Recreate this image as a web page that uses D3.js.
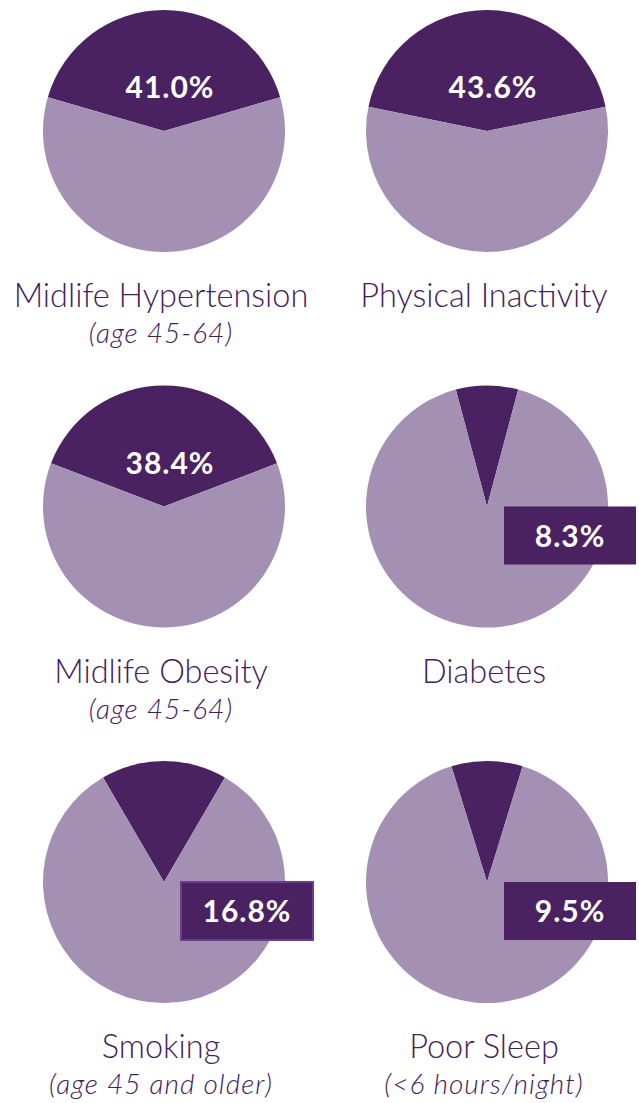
<!DOCTYPE html>
<html><head><meta charset="utf-8">
<script src="https://cdn.jsdelivr.net/npm/d3@7"></script>
<style>
html,body{margin:0;padding:0;background:#fff;}
svg{display:block;}
</style></head>
<body>
<svg id="chart" width="639" height="1103"></svg>
<script>
const titles = ["Midlife Hypertension","Physical Inactivity","Midlife Obesity","Diabetes","Smoking","Poor Sleep"];
const subtitles = ["(age 45-64)","","(age 45-64)","","(age 45 and older)","(<6 hours/night)"];
const values = [41.0, 43.6, 38.4, 8.3, 16.8, 9.5];
const labelStyle = ["inside","inside","inside","box","box","box"];

const dark = "#4a2161", light = "#a490b3", textCol = "#43205c";
const svg = d3.select("#chart");
const col = d3.scalePoint().domain([0,1]).range([164,487]);
const row = d3.scalePoint().domain([0,1,2]).range([131,882]);
const r = 121;
const arc = d3.arc().innerRadius(0).outerRadius(r);

values.forEach((v,i)=>{
  const cx = col(i%2), cy = row(Math.floor(i/2));
  const g = svg.append("g").attr("transform",`translate(${cx},${cy})`);
  const half = v/100*Math.PI;
  const pie = d3.pie().sort(null).startAngle(-half).endAngle(2*Math.PI-half);
  const arcs = pie([v,100-v]);
  g.selectAll("path").data(arcs).join("path")
    .attr("d",arc)
    .attr("fill",(d,j)=>j===0?dark:light);
  const lbl = v.toFixed(1)+"%";
  if(labelStyle[i]==="inside"){
    g.append("text").attr("x",6).attr("y",-33)
      .attr("text-anchor","middle")
      .attr("font-family","Lato, sans-serif").attr("font-weight","bold")
      .attr("font-size",30).attr("letter-spacing",1)
      .attr("fill","#fff").text(lbl);
  } else {
    g.append("rect").attr("x",17).attr("y",0).attr("width",132).attr("height",58)
      .attr("fill",dark)
      .attr("stroke", i===4 ? "#6b3d8c" : "none").attr("stroke-width",2);
    g.append("text").attr("x",83).attr("y",40)
      .attr("text-anchor","middle")
      .attr("font-family","Lato, sans-serif").attr("font-weight","bold")
      .attr("font-size",30).attr("letter-spacing",1)
      .attr("fill","#fff").text(lbl);
  }
  g.append("text").attr("x",-3).attr("y",176)
    .attr("text-anchor","middle")
    .attr("font-family","Lato, sans-serif").attr("font-weight",300)
    .attr("font-size",32.5).attr("fill",textCol).text(titles[i]);
  if(subtitles[i]){
    g.append("text").attr("x",-3).attr("y",212)
      .attr("text-anchor","middle")
      .attr("font-family","Lato, sans-serif").attr("font-weight",300).attr("font-style","italic")
      .attr("font-size",28).attr("letter-spacing",1).attr("fill",textCol).text(subtitles[i]);
  }
});
</script>
</body></html>
